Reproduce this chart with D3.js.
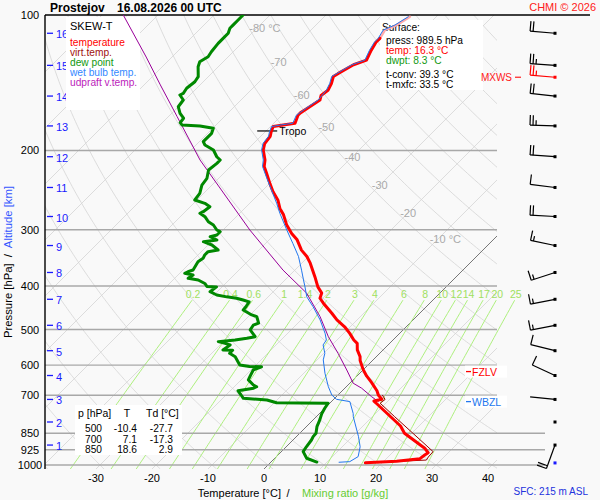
<!DOCTYPE html>
<html>
<head>
<meta charset="utf-8">
<script src="https://cdn.jsdelivr.net/npm/d3@7"></script>
<style>
  body { margin: 0; background: #f9f9f9; }
  svg { display: block; font-family: "Liberation Sans", Arial, sans-serif; }
</style>
</head>
<body>
<svg id="skewt" width="600" height="500"></svg>
<script>
// ---- sounding values (pressure hPa / temperature °C) ----
const tempP = [989, 981, 968, 950, 939, 918, 850, 819, 729, 721, 714.5, 699, 684, 656, 634, 613, 586, 574.5, 555, 536.5, 527.5, 510, 493, 476, 460, 437, 426, 415, 402, 382, 356, 344, 333, 316, 306, 293, 278, 269, 258, 247, 237, 225, 217, 210, 199.5, 193, 186, 182, 177, 175.5, 174, 167, 165, 160, 154.5, 151, 147, 142, 137, 135, 129, 126, 120, 115, 112.7];
const tempT = [17.0, 22.3, 26.0, 26.2, 26.4, 25.0, 18.7, 16.7, 8.3, 7.5, 8.6, 7.2, 6.2, 3.8, 1.7, -0.1, -2.2, -2.9, -4.6, -5.8, -7.0, -8.9, -11.0, -13.6, -15.7, -19.0, -20.5, -21.1, -22.9, -25.2, -28.5, -30.3, -32.4, -35.0, -37.1, -39.5, -41.9, -43.7, -45.5, -47.9, -49.9, -52.3, -54.0, -55.0, -57.1, -58.0, -58.3, -58.9, -59.5, -58.0, -56.2, -57.1, -57.1, -56.5, -55.9, -56.5, -56.2, -56.8, -57.7, -57.4, -56.2, -54.7, -55.6, -56.2, -56.2];

// top of the profile drawn in light red
const topP = [112.7, 108, 105.3, 100.9];
const topT = [-56.2, -56.8, -55.6, -54.7];

const virtP = [987, 981, 975, 960, 934, 850, 780, 729, 715, 700];
const virtT = [17.8, 22.9, 27.4, 27.2, 27.1, 20.2, 13.9, 9.0, 9.2, 8.0];

const dewP = [985, 966, 934, 911, 880, 865, 850, 822, 794, 768, 748, 729, 728, 727, 717, 711, 699, 684, 675, 670, 664, 647, 636.5, 615, 605, 604, 599.5, 574.5, 564.6, 556, 555, 541, 536.5, 532, 527.5, 523, 518.7, 501, 489, 484, 468, 464, 452.5, 445, 434, 430, 426, 423, 419, 412, 402, 401, 395, 388, 384.7, 378.3, 375, 372, 368.7, 353.4, 347.3, 341.5, 335.7, 332.8, 324.4, 319, 316.2, 310.9, 308.2, 303.1, 300.5, 292.9, 288, 280.7, 275.9, 273.6, 266.7, 262.1, 257.7, 249, 238.7, 230.6, 221, 213.6, 210, 206.5, 199.5, 194.5, 191.2, 183.2, 178.5, 176.4, 175.5, 173.5, 169.6, 165.4, 159.9, 154.5, 150.6, 149.3, 145.5, 140.7, 137.1, 130.3, 127, 123.8, 120.7, 115.6, 112.7, 109.8, 107, 105.3, 102.6, 100];
const dewT = [8.2, 5.7, 3.9, 3.6, 3.3, 3.0, 2.9, 1.9, 1.2, 0.4, 0.0, -0.3, -5.4, -9.6, -11.8, -16.3, -17.3, -18.6, -16.3, -16.0, -16.9, -18.7, -19.0, -19.6, -18.7, -20.9, -22.9, -25.2, -26.8, -26.8, -28.6, -28.2, -29.4, -30.9, -28.2, -26.4, -25.2, -27.3, -27.6, -27.0, -28.5, -29.7, -32.1, -32.2, -32.5, -33.9, -35.4, -37.4, -39.5, -41.3, -41.0, -42.8, -43.7, -45.5, -47.6, -47.3, -49.1, -48.8, -48.2, -48.8, -48.5, -48.8, -48.8, -47.3, -49.3, -51.4, -49.3, -51.1, -50.2, -50.2, -51.1, -52.6, -54.1, -55.6, -57.1, -56.8, -56.5, -58.0, -60.4, -60.7, -61.8, -62.1, -63.3, -63.0, -63.0, -64.2, -66.0, -68.4, -69.3, -69.3, -69.9, -72.7, -76.1, -76.8, -77.0, -78.5, -80.0, -80.3, -81.8, -81.5, -81.8, -81.5, -81.8, -83.6, -84.2, -83.6, -83.9, -84.2, -84.2, -84.2, -84.8, -84.8, -84.8, -84.8];

const wetP = [986, 983, 958, 911, 865, 781, 768, 723, 714.5, 699, 670, 625.5, 584, 564.6, 541, 527.5, 510, 476, 445, 423, 402, 388, 369, 344, 322, 300.5, 276, 262, 230.6, 217, 210, 199.5, 193, 186, 182, 177, 175.5, 174, 167, 160, 154.5, 147, 142, 137, 129, 126, 120, 115, 112.7, 108, 105.3, 100.9];
const wetT = [12.2, 14.0, 14.6, 13.2, 11.1, 6.6, 6.0, 3.3, 0.5, -1.1, -3.2, -6.2, -8.9, -9.8, -11.6, -11.9, -13.3, -16.6, -20.2, -23.1, -25.2, -26.7, -28.8, -31.8, -35.1, -38.6, -42.8, -45.2, -51.4, -54.3, -55.3, -57.4, -58.3, -58.6, -59.2, -59.8, -58.4, -56.6, -57.4, -56.8, -56.2, -56.5, -57.1, -58.0, -56.5, -55.0, -55.9, -56.5, -56.5, -57.1, -55.9, -55.0];

const parcelP = [723, 705, 675, 658, 615, 565, 519, 468, 415, 369, 300.5, 210, 168, 143, 124, 100];
const parcelT = [8.4, 6.3, 3.0, 0.6, -2.9, -7.4, -12.1, -17.2, -23.8, -32.1, -45.2, -66.6, -78.5, -87.1, -94.6, -106.2];

// altitude marks (km) and the pressure where each sits
const altKm = [1, 2, 3, 4, 5, 6, 7, 8, 9, 10, 11, 12, 13, 14, 15, 16];
const altP = [903, 802.5, 715, 632.6, 557.2, 489.3, 428.3, 373.4, 325.3, 280.4, 241.7, 206.5, 176.4, 151.4, 129.4, 109.8];
// wind at each altitude mark: direction (deg), speed (kt)
const windDir = [200, 0, 276, 295, 284, 259, 259, 252, 282, 273, 277, 274, 272, 276, 274, 275];
const windSpd = [20, 0, 2, 10, 10, 15, 15, 15, 15, 20, 10, 20, 25, 20, 25, 20];
const maxWind = { p: 137.5, dir: 275, spd: 25 };

const pressTicks = [100, 200, 300, 400, 500, 600, 700, 850, 925, 1000];
const tempTicks = [-30, -20, -10, 0, 10, 20, 30, 40];
const isoLabels = [-80, -70, -60, -50, -40, -30, -20, -10];
const mixRatios = [0.2, 0.4, 0.6, 1, 1.4, 2, 3, 4, 6, 8, 10, 12, 14, 17, 20, 25];

const tableP = [500, 700, 850];
const tableT = [-10.4, 7.1, 18.6];
const tableTd = [-27.7, -17.3, 2.9];

const sfcPress = 989.5, sfcTemp = 16.3, sfcDwpt = 8.3, tConv = 39.3, tMxfc = 33.5;
const tropoP = 181, fzlvP = 620, wbzlP = 723;

// ---- layout ----
const svg = d3.select("#skewt");
const plotL = 45, plotR = 497, plotT = 15, plotB = 469;
const y = d3.scaleLog().domain([100, 1000]).range([15, 465]);
const xT = d3.scaleLinear().domain([0, 10]).range([264, 320]);
const skewX = (t, p) => xT(t) + (plotB - y(p));
const pBottom = y.invert(plotB);
const line = d3.line().x((d) => skewX(d[1], d[0])).y((d) => y(d[0]));

const defs = svg.append("defs");
defs.append("clipPath").attr("id", "plotClip")
  .append("rect").attr("x", plotL).attr("y", plotT)
  .attr("width", plotR - plotL).attr("height", plotB - plotT);
defs.append("clipPath").attr("id", "mixClip")
  .append("rect").attr("x", plotL).attr("y", plotT)
  .attr("width", 545 - plotL).attr("height", plotB - plotT);

const grid = svg.append("g").attr("clip-path", "url(#plotClip)");
const pSteps = d3.range(pBottom, 94, -4);

// dry adiabats
d3.range(-40, 200, 10).forEach((th) => {
  const pts = pSteps.map((p) => [p, (th + 273.15) * Math.pow(p / 1000, 0.2857) - 273.15]);
  grid.append("path").attr("d", line(pts))
    .attr("fill", "none").attr("stroke", "#d4d4d4").attr("stroke-width", 0.8);
});

// isotherms
d3.range(-150, 60, 10).forEach((t) => {
  grid.append("path").attr("d", line([[pBottom, t], [94, t]]))
    .attr("fill", "none")
    .attr("stroke", t === 0 ? "#777" : "#d4d4d4")
    .attr("stroke-width", t === 0 ? 1 : 0.8);
});

// mixing ratio lines
function dewFromMix(w, p) {
  const a = Math.log((w * p) / (622 + w) / 6.112);
  return (243.5 * a) / (17.67 - a);
}
const mixTop = 430;
const mixSteps = d3.range(pBottom, mixTop, -10).concat([mixTop]);
const mixG = svg.append("g").attr("clip-path", "url(#mixClip)");
mixRatios.forEach((w) => {
  mixG.append("path").attr("d", line(mixSteps.map((p) => [p, dewFromMix(w, p)])))
    .attr("fill", "none").attr("stroke", "#aef07e").attr("stroke-width", 1);
  svg.append("text")
    .attr("x", skewX(dewFromMix(w, mixTop), mixTop) + 1)
    .attr("y", y(mixTop) - 2)
    .attr("text-anchor", "middle").attr("font-size", 10.5).attr("fill", "#a0e060")
    .text(w);
});

// isotherm labels along a dry adiabat
const labelTheta = 366;
isoLabels.forEach((t) => {
  const p = 1000 * Math.pow((t + 273.15) / labelTheta, 1 / 0.2857);
  grid.append("text")
    .attr("x", skewX(t, p) - 8).attr("y", y(p) + 4)
    .attr("font-size", 11).attr("fill", "#aaa")
    .text(t === -80 || t === -10 ? `${t} °C` : t);
});

// pressure lines
pressTicks.slice(1).forEach((p) => {
  svg.append("line")
    .attr("x1", plotL).attr("x2", p >= 850 ? 545 : plotR)
    .attr("y1", y(p)).attr("y2", y(p))
    .attr("stroke", "#a8a8a8").attr("stroke-width", 1.4);
});

// frame
svg.append("line").attr("x1", plotL).attr("x2", 590).attr("y1", plotT).attr("y2", plotT)
  .attr("stroke", "#000").attr("stroke-width", 1.4);
svg.append("line").attr("x1", plotL).attr("x2", plotL).attr("y1", plotT).attr("y2", plotB)
  .attr("stroke", "#000").attr("stroke-width", 1.4);

// pressure tick labels
svg.append("g").selectAll("text").data(pressTicks).join("text")
  .attr("x", 30).attr("y", (d) => y(d) + 4)
  .attr("text-anchor", "middle").attr("font-size", 11).attr("fill", "#000")
  .text((d) => d);

// altitude labels
const altG = svg.append("g").attr("fill", "#1a1aff").attr("font-size", 11);
altKm.forEach((km, i) => {
  const yy = y(altP[i]);
  altG.append("line").attr("x1", 47).attr("x2", 53).attr("y1", yy).attr("y2", yy)
    .attr("stroke", "#1a1aff").attr("stroke-width", 1.3);
  altG.append("text").attr("x", 56).attr("y", yy + 5).text(km);
});

// temperature tick labels
svg.append("g").selectAll("text").data(tempTicks).join("text")
  .attr("x", (d) => xT(d)).attr("y", 482)
  .attr("text-anchor", "middle").attr("font-size", 11).attr("fill", "#000")
  .text((d) => d);

// axis titles
svg.append("text").attr("x", 281).attr("y", 497).attr("text-anchor", "end")
  .attr("font-size", 11).text("Temperature [°C]");
svg.append("text").attr("x", 288).attr("y", 497).attr("text-anchor", "middle")
  .attr("font-size", 11).text("/");
svg.append("text").attr("x", 302).attr("y", 497).attr("font-size", 11)
  .attr("fill", "#66cc33").text("Mixing ratio [g/kg]");

const yTitle = svg.append("text").attr("transform", "translate(12,262) rotate(-90)")
  .attr("text-anchor", "middle").attr("font-size", 11.3);
yTitle.append("tspan").attr("fill", "#000").text("Pressure [hPa]");
yTitle.append("tspan").attr("fill", "#000").attr("dx", 6).text("/");
yTitle.append("tspan").attr("fill", "#3355ff").attr("dx", 6).text("Altitude [km]");

// title
svg.append("text").attr("x", 50).attr("y", 12).attr("font-size", 12)
  .attr("font-weight", "bold").text("Prostejov");
svg.append("text").attr("x", 117).attr("y", 12).attr("font-size", 12)
  .attr("font-weight", "bold").text("16.08.2026 00 UTC");
svg.append("text").attr("x", 596).attr("y", 11).attr("text-anchor", "end")
  .attr("font-size", 11).attr("fill", "#ff2020").text("CHMI © 2026");
svg.append("text").attr("x", 588).attr("y", 495).attr("text-anchor", "end")
  .attr("font-size", 10).attr("fill", "#2233dd").text("SFC: 215 m ASL");

// legend box
svg.append("rect").attr("x", 66).attr("y", 17).attr("width", 74).attr("height", 93).attr("fill", "#fff");
svg.append("text").attr("x", 70).attr("y", 30).attr("font-size", 11).text("SKEW-T");
const legendItems = [
  ["temperature", "#ff0000"],
  ["virt.temp.", "#a01010"],
  ["dew point", "#119911"],
  ["wet bulb temp.", "#3388ff"],
  ["udpraft v.temp.", "#bb22bb"],
];
legendItems.forEach(([label, color], i) => {
  svg.append("text").attr("x", 70).attr("y", 45.5 + i * 10)
    .attr("font-size", 10.2).attr("fill", color).text(label);
});

// surface box
svg.append("rect").attr("x", 380).attr("y", 20).attr("width", 103).attr("height", 70).attr("fill", "#fff");
const sfcRows = [
  ["Surface:", "#000", 382, 31],
  [`press: ${sfcPress} hPa`, "#000", 386, 44],
  [`temp: ${sfcTemp} °C`, "#ff0000", 386, 54],
  [`dwpt: ${sfcDwpt} °C`, "#119911", 386, 64],
  [`t-conv: ${tConv} °C`, "#000", 386, 78],
  [`t-mxfc: ${tMxfc} °C`, "#000", 386, 88],
];
sfcRows.forEach(([label, color, x, yy]) => {
  svg.append("text").attr("x", x).attr("y", yy).attr("font-size", 10.2)
    .attr("fill", color).text(label);
});

// level table
svg.append("rect").attr("x", 75).attr("y", 405).attr("width", 107).attr("height", 50).attr("fill", "#fff");
svg.append("text").attr("x", 78).attr("y", 417).attr("font-size", 10.5).text("p [hPa]");
svg.append("text").attr("x", 127).attr("y", 417).attr("text-anchor", "middle").attr("font-size", 10.5).text("T");
svg.append("text").attr("x", 146).attr("y", 417).attr("font-size", 10.5).text("Td [°C]");
tableP.forEach((p, i) => {
  const yy = 432 + i * 10.5;
  svg.append("text").attr("x", 102).attr("y", yy).attr("text-anchor", "end").attr("font-size", 10.2).text(p);
  svg.append("text").attr("x", 137).attr("y", yy).attr("text-anchor", "end").attr("font-size", 10.2).text(tableT[i].toFixed(1));
  svg.append("text").attr("x", 173).attr("y", yy).attr("text-anchor", "end").attr("font-size", 10.2).text(tableTd[i].toFixed(1));
});

// FZLV / WBZL markers
[[fzlvP, "FZLV", "#ff0000"], [wbzlP, "WBZL", "#2277ee"]].forEach(([p, label, color]) => {
  const yy = y(p);
  svg.append("rect").attr("x", 465).attr("y", yy - 6).attr("width", 42).attr("height", 12).attr("fill", "#fff");
  svg.append("line").attr("x1", 466).attr("x2", 471).attr("y1", yy).attr("y2", yy)
    .attr("stroke", color).attr("stroke-width", 1.3);
  svg.append("text").attr("x", 472).attr("y", yy + 4).attr("font-size", 10.5)
    .attr("fill", color).text(label);
});

// tropopause
svg.append("line")
  .attr("x1", skewX(tempT[47], tropoP) - 15).attr("x2", skewX(tempT[47], tropoP) + 5)
  .attr("y1", y(tropoP)).attr("y2", y(tropoP)).attr("stroke", "#000").attr("stroke-width", 1.2);
svg.append("text").attr("x", skewX(tempT[47], tropoP) + 7).attr("y", y(tropoP) + 4)
  .attr("font-size", 10.5).text("Tropo");

// ---- profiles ----
const prof = svg.append("g").attr("clip-path", "url(#plotClip)")
  .attr("fill", "none").attr("stroke-linejoin", "round").attr("stroke-linecap", "round");

prof.append("path").attr("d", line(d3.zip(parcelP, parcelT)))
  .attr("stroke", "#990099").attr("stroke-width", 1);
prof.append("path").attr("d", line(d3.zip(dewP, dewT)))
  .attr("stroke", "#008800").attr("stroke-width", 3);
prof.append("path").attr("d", line(d3.zip(virtP, virtT)))
  .attr("stroke", "#990000").attr("stroke-width", 1);
prof.append("path").attr("d", line(d3.zip(topP, topT)))
  .attr("stroke", "#ffaaaa").attr("stroke-width", 2.5);
prof.append("path").attr("d", line(d3.zip(tempP, tempT)))
  .attr("stroke", "#ff0000").attr("stroke-width", 3);
prof.append("path").attr("d", line(d3.zip(wetP, wetT)))
  .attr("stroke", "#2277ee").attr("stroke-width", 1);

// ---- wind barbs ----
const barbX = 555, barbLen = 25, featherLen = 10, featherGap = 3;
function drawBarb(p, dir, spd, color) {
  const g = svg.append("g").attr("stroke", color).attr("stroke-width", 1.2).attr("fill", "none");
  const cy = y(p);
  g.append("rect").attr("x", barbX - 1.5).attr("y", cy - 1.5).attr("width", 3).attr("height", 3)
    .attr("fill", color).attr("stroke", "none");
  if (spd <= 0) return;
  const r = (dir * Math.PI) / 180;
  const ux = Math.sin(r), uy = -Math.cos(r);
  const tx = barbX + ux * barbLen, ty = cy + uy * barbLen;
  g.append("line").attr("x1", barbX).attr("y1", cy).attr("x2", tx).attr("y2", ty);
  const fx = -uy, fy = ux;
  let rest = Math.round(spd / 5) * 5;
  let pos = 0;
  while (rest >= 10) {
    const bx = tx - ux * pos, by = ty - uy * pos;
    g.append("line").attr("x1", bx).attr("y1", by)
      .attr("x2", bx + fx * featherLen).attr("y2", by + fy * featherLen);
    pos += featherGap;
    rest -= 10;
  }
  if (rest >= 5) {
    const bx = tx - ux * pos, by = ty - uy * pos;
    g.append("line").attr("x1", bx).attr("y1", by)
      .attr("x2", bx + fx * featherLen / 2).attr("y2", by + fy * featherLen / 2);
  }
}
altKm.forEach((km, i) => drawBarb(altP[i], windDir[i], windSpd[i], "#000"));
drawBarb(maxWind.p, maxWind.dir, maxWind.spd, "#ff0000");
drawBarb(sfcPress, 0, 0, "#1a1aff");

svg.append("text").attr("x", 512).attr("y", y(maxWind.p) + 4).attr("text-anchor", "end")
  .attr("font-size", 10).attr("fill", "#ff2020").text("MXWS");
svg.append("line").attr("x1", 515).attr("x2", 521).attr("y1", y(maxWind.p)).attr("y2", y(maxWind.p))
  .attr("stroke", "#ff2020").attr("stroke-width", 1.2);
</script>
</body>
</html>
